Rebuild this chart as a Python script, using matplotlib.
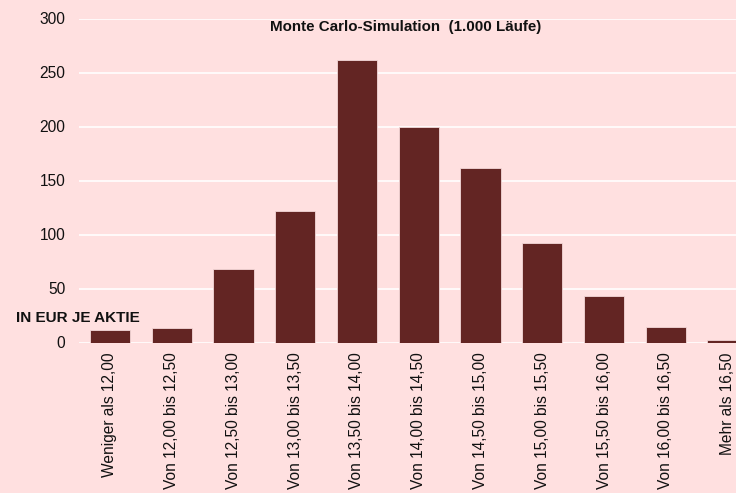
import matplotlib
matplotlib.use("Agg")
import matplotlib.pyplot as plt

plt.rcParams['font.family'] = ['Liberation Sans', 'DejaVu Sans']

categories = ["Weniger als 12,00", "Von 12,00 bis 12,50", "Von 12,50 bis 13,00",
              "Von 13,00 bis 13,50", "Von 13,50 bis 14,00", "Von 14,00 bis 14,50",
              "Von 14,50 bis 15,00", "Von 15,00 bis 15,50", "Von 15,50 bis 16,00",
              "Von 16,00 bis 16,50", "Mehr als 16,50"]
counts = [12, 13, 68, 122, 262, 200, 162, 92, 43, 14, 2]
yticks = [0, 50, 100, 150, 200, 250, 300]

W, H = 736, 493
bg = '#FFE0E0'
fig = plt.figure(figsize=(W/100, H/100), dpi=100, facecolor=bg)
left, right = 79.1, 758.4
bottom_px, top_px = 342.5, 18.5
ax = fig.add_axes([left/W, 1 - bottom_px/H, (right-left)/W, (bottom_px-top_px)/H])
ax.set_facecolor(bg)
x = list(range(len(categories)))
ax.bar(x, counts, width=0.65, color='#632523', edgecolor='#F4D8D8', linewidth=0.6, zorder=3)
ax.set_xlim(-0.5, len(categories)-0.5)
ax.set_ylim(0, 300)
ax.set_yticks(yticks)
ax.set_yticklabels([str(v) for v in yticks], fontsize=11.2, color='#111111')
ax.set_xticks(x)
ax.set_xticklabels(categories, rotation=90, fontsize=11.2, color='#111111', va='top')
ax.tick_params(axis='both', length=0)
ax.tick_params(axis='y', pad=10)
ax.tick_params(axis='x', pad=7)
for s in ax.spines.values():
    s.set_visible(False)
ax.grid(axis='y', color='white', linewidth=1.2, zorder=0)
ax.set_axisbelow(True)

fig.text(406/W, 1 - 27/H, "Monte Carlo-Simulation  (1.000 Läufe)", fontsize=10.9,
         fontweight='bold', ha='center', va='center', color='#111111')
fig.text(16/W, 1 - 318/H, "IN EUR JE AKTIE", fontsize=11.0, fontweight='bold',
         ha='left', va='center', color='#111111')

fig.savefig("out.png", dpi=100, facecolor=bg)
